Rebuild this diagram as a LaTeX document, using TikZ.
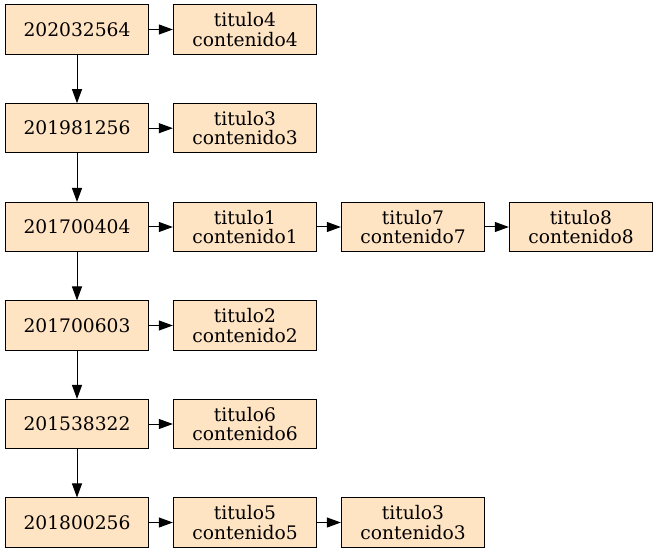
\documentclass[tikz,border=0pt]{standalone}
\usepackage{fontspec}
\setmainfont{DejaVu Serif}
\usetikzlibrary{arrows.meta}
\definecolor{bisque}{HTML}{FFE4C4}
\tikzset{
  box/.style={draw=black, fill=bisque, line width=0.75pt, minimum width=107.5pt, minimum height=36.8pt,
    inner sep=0pt, align=center, font=\fontsize{14pt}{14.7pt}\selectfont},
  link/.style={draw=black, line width=0.75pt, -{Triangle[length=10.5pt,width=7.5pt]}}
}
\begin{document}
\begin{tikzpicture}[x=0.75pt,y=-0.75pt]
\useasboundingbox (0,0) rectangle (659,555);
\def\ra{29.5}\def\rb{128.2}\def\rc{227}\def\rd{325.5}\def\re{424}\def\rf{522.5}
\node[box] (k1) at (77,\ra) {202032564};
\node[box] (k2) at (77,\rb) {201981256};
\node[box] (k3) at (77,\rc) {201700404};
\node[box] (k4) at (77,\rd) {201700603};
\node[box] (k5) at (77,\re) {201538322};
\node[box] (k6) at (77,\rf) {201800256};
\node[box] (a1) at (245,\ra) {titulo4\\contenido4};
\node[box] (b1) at (245,\rb) {titulo3\\contenido3};
\node[box] (c1) at (245,\rc) {titulo1\\contenido1};
\node[box] (c2) at (413,\rc) {titulo7\\contenido7};
\node[box] (c3) at (581,\rc) {titulo8\\contenido8};
\node[box] (d1) at (245,\rd) {titulo2\\contenido2};
\node[box] (e1) at (245,\re) {titulo6\\contenido6};
\node[box] (f1) at (245,\rf) {titulo5\\contenido5};
\node[box] (f2) at (413,\rf) {titulo3\\contenido3};
\draw[link] (k1) -- (k2);
\draw[link] (k2) -- (k3);
\draw[link] (k3) -- (k4);
\draw[link] (k4) -- (k5);
\draw[link] (k5) -- (k6);
\draw[link] (k1) -- (a1);
\draw[link] (k2) -- (b1);
\draw[link] (k3) -- (c1);
\draw[link] (c1) -- (c2);
\draw[link] (c2) -- (c3);
\draw[link] (k4) -- (d1);
\draw[link] (k5) -- (e1);
\draw[link] (k6) -- (f1);
\draw[link] (f1) -- (f2);
\end{tikzpicture}
\end{document}
